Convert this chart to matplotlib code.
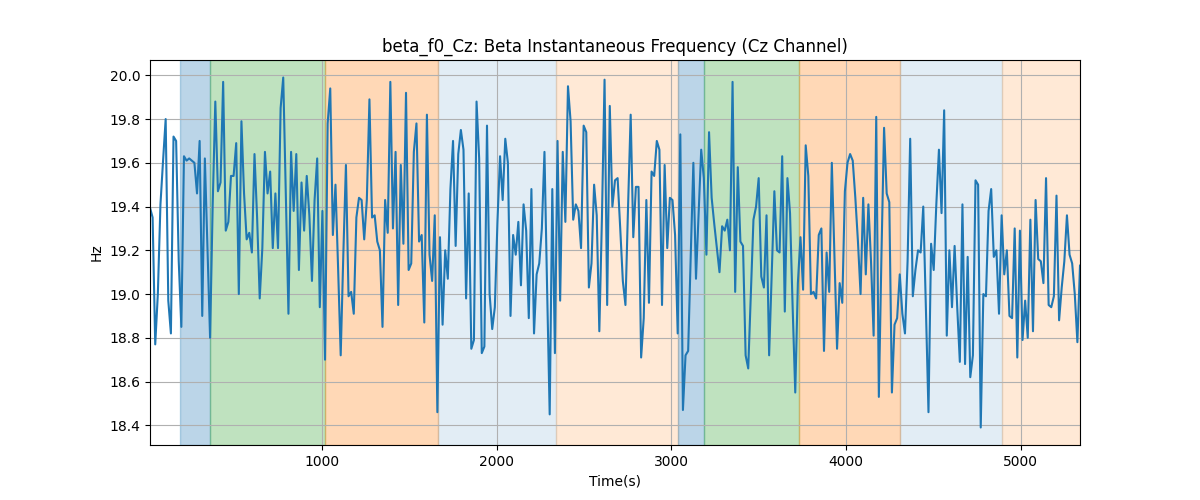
import numpy as np
import matplotlib
matplotlib.use("Agg")
import matplotlib.pyplot as plt

# time axis (s), samples evenly spaced between these
T_START = 16
T_END = 5338

# beta instantaneous frequency, Cz channel (Hz)
beta_f0_cz = [
    19.395, 19.35, 18.77, 19.0, 19.41, 19.61, 19.8, 18.97, 18.82, 19.72,
    19.70, 19.15, 18.85, 19.63, 19.61, 19.62, 19.61, 19.60, 19.46, 19.70,
    18.90, 19.62, 19.21, 18.80, 19.41, 19.88, 19.47, 19.51, 19.97, 19.29,
    19.33, 19.54, 19.54, 19.69, 19.00, 19.79, 19.46, 19.25,
    19.28, 19.19, 19.64, 19.35, 18.98, 19.21, 19.65, 19.46, 19.56, 19.21,
    19.46, 19.21, 19.85, 19.99, 19.46, 18.91, 19.65, 19.38, 19.64, 19.11,
    19.51, 19.29, 19.54, 19.36, 19.06, 19.43, 19.62, 18.94, 19.38, 18.70,
    19.78, 19.94, 19.27, 19.50, 19.12, 18.72,
    19.18, 19.59, 18.99, 19.01, 18.91, 19.35, 19.44, 19.43, 19.25, 19.43,
    19.89, 19.35, 19.36, 19.24, 19.20, 18.85, 19.43, 19.28, 19.97, 19.30,
    19.65, 18.95, 19.59, 19.23, 19.92, 19.11, 19.14, 19.65, 19.78, 19.24,
    19.27, 18.87, 19.82, 19.18, 19.06, 19.36,
    18.46, 19.26, 18.86, 19.20, 19.07, 19.48, 19.70, 19.22, 19.64, 19.75,
    19.66, 18.98, 19.46, 18.75, 18.79, 19.88, 19.62, 18.73, 18.76, 19.77,
    19.0, 18.84, 18.94, 19.33, 19.63, 19.43, 19.71, 19.60, 18.90, 19.27,
    19.18, 19.33, 19.04, 19.41, 19.29, 18.89, 19.48,
    18.82, 19.09, 19.14, 19.30, 19.65, 19.03, 18.45, 19.48, 18.73, 19.70,
    18.97, 19.65, 19.33, 19.95, 19.79, 19.34, 19.41, 19.38, 19.21, 19.77,
    19.74, 19.03, 19.14, 19.50, 19.36, 18.83, 19.35, 19.98, 18.95, 19.86,
    19.40, 19.52, 19.53, 19.30, 19.06, 18.95,
    19.40, 19.82, 19.26, 19.49, 19.49, 18.71, 18.89, 19.43, 18.96, 19.56,
    19.54, 19.70, 19.66, 18.95, 19.59, 19.21, 19.44, 19.43, 19.27, 18.82,
    19.73, 18.47, 18.72, 18.74, 19.18, 19.60, 19.07, 19.36, 19.66, 19.53,
    19.18, 19.74, 19.44, 19.32, 19.21, 19.10,
    19.31, 19.29, 19.34, 19.20, 19.97, 19.01, 19.58, 19.24, 19.22, 18.72,
    18.66, 19.0, 19.34, 19.40, 19.53, 19.08, 19.03, 19.36, 18.72, 19.10,
    19.47, 19.20, 19.19, 19.63, 18.92, 19.53, 19.37, 18.94, 18.55, 19.05,
    19.26, 19.02, 19.68, 19.54, 19.00, 19.01,
    18.98, 19.27, 19.30, 18.74, 19.19, 19.01, 19.60, 19.18, 18.75, 19.05,
    18.96, 19.47, 19.60, 19.64, 19.61, 19.44, 19.24, 19.00, 19.44, 19.09,
    19.41, 19.15, 18.81, 19.81, 18.53, 19.18, 19.76, 19.46, 19.42, 18.55,
    18.86, 18.89, 19.09, 18.91, 18.82, 19.15, 19.71,
    18.99, 19.11, 19.20, 19.19, 19.40, 18.94, 18.46, 19.23, 19.11, 19.41,
    19.66, 19.37, 19.84, 18.81, 19.20, 18.94, 19.22, 18.94, 18.69, 19.41,
    18.68, 19.17, 18.62, 18.72, 19.52, 19.50, 18.39, 19.00, 18.99, 19.38,
    19.48, 19.17, 19.20, 18.91, 19.36, 19.09,
    19.20, 18.90, 18.89, 19.30, 18.71, 19.29, 18.79, 18.97, 18.80, 19.34,
    18.83, 19.43, 19.16, 19.15, 19.05, 19.53, 18.95, 18.94, 18.99, 19.45,
    18.88, 19.03, 19.15, 19.36, 19.18, 19.14, 19.00, 18.78, 19.13,
]

# shaded segments: start, end, colour, alpha
seg_start = [187, 359, 1017, 1664, 2339, 3037, 3186, 3730, 4308, 4891]
seg_end = [359, 1017, 1664, 2339, 3037, 3186, 3730, 4308, 4891, 5338]
seg_color = ['tab:blue', 'tab:green', 'tab:orange', 'tab:blue', 'tab:orange',
             'tab:blue', 'tab:green', 'tab:orange', 'tab:blue', 'tab:orange']
seg_alpha = [0.3, 0.3, 0.3, 0.13, 0.17, 0.3, 0.3, 0.3, 0.13, 0.17]

t = np.linspace(T_START, T_END, len(beta_f0_cz))

fig, ax = plt.subplots(figsize=(12, 5), dpi=100)
for s, e, c, a in zip(seg_start, seg_end, seg_color, seg_alpha):
    ax.axvspan(s, e, color=c, alpha=a)
ax.plot(t, beta_f0_cz, color='tab:blue')
ax.set_xlim(T_START, T_END)
ax.set_title('beta_f0_Cz: Beta Instantaneous Frequency (Cz Channel)')
ax.set_xlabel('Time(s)')
ax.set_ylabel('Hz')
ax.grid()
fig.savefig('out.png')
